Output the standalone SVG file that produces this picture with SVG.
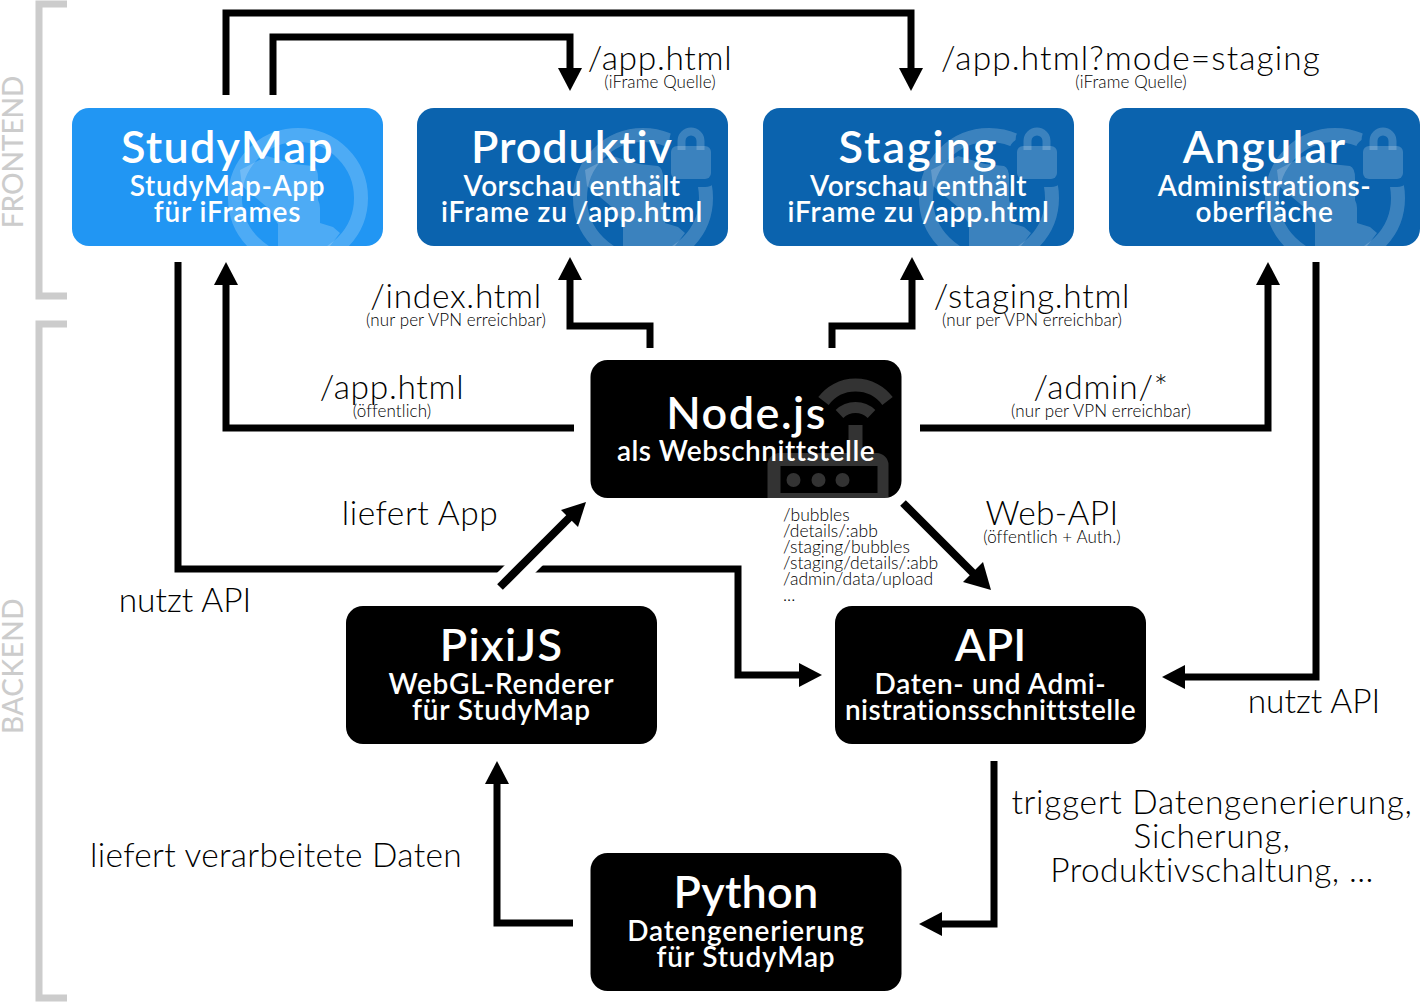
<svg xmlns="http://www.w3.org/2000/svg" width="1422" height="1004" viewBox="0 0 1422 1004">
<style>
text{font-family:Lato,"Open Sans","Liberation Sans",sans-serif;text-anchor:middle}
.t{font-size:45px;font-weight:600;fill:#fff;letter-spacing:1.200px}
.s{font-size:28px;font-weight:600;fill:#fff;letter-spacing:.85px}
.l{font-size:33.500px;font-weight:300;fill:#000;letter-spacing:.7px}
.m{font-size:17px;font-weight:300;fill:#000;letter-spacing:.1px}
.r{font-size:17.500px;font-weight:300;fill:#000;text-anchor:start}
.c{fill:none;stroke:#000;stroke-width:7;stroke-linejoin:miter}
.d{fill:none;stroke:#000;stroke-width:8}
.h{fill:#000}
.b{fill:none;stroke:#ccc;stroke-width:7}
.g{font-size:28px;font-weight:500;fill:#ccc}
.w{fill:#fff;fill-opacity:.2}
.ws{fill:none;stroke:#fff;stroke-opacity:.2}
</style>
<defs>
<clipPath id="rc"><rect width="311" height="138" rx="17"/></clipPath>
<mask id="nolock" maskUnits="userSpaceOnUse" x="0" y="0" width="311" height="138"><rect width="311" height="138" fill="#fff"/><rect x="254" y="38" width="40" height="33" rx="6" fill="#000" stroke="#000" stroke-width="16"/><path d="M264.500 42V33a9.500 9.500 0 0 1 19 0V42" fill="none" stroke="#000" stroke-width="24"/></mask>
<g id="globe"><circle cx="226" cy="90" r="63" class="ws" stroke-width="14"/><path class="w" d="M168 62L195 48L222 56L241 58Q246 60 246 70V92Q248 96 248 100V115L261 119L268 125L258 138H206V116L196 100L170 78Z"/></g>
<g id="lock"><path d="M264.500 42V33a9.500 9.500 0 0 1 19 0V42" class="ws" stroke-width="8"/><rect x="254" y="38" width="40" height="33" rx="6" class="w"/></g>
</defs>
<g id="brackets">
<path class="b" d="M67 4H39V296H67"/>
<path class="b" d="M67 324H39V998H67"/>
<text class="g" transform="translate(23 152) rotate(-90)">FRONTEND</text>
<text class="g" transform="translate(23 666) rotate(-90)" style="letter-spacing:.5px">BACKEND</text>
</g>
<g id="connectors">
<path class="c" d="M226 95V13H911V70"/><path class="h" d="M899 68h24l-12 23z"/>
<path class="c" d="M273 95V37H570V70"/><path class="h" d="M558 68h24l-12 23z"/>
<path class="c" d="M178 262V569H738V675H802"/><path class="h" d="M799 663l23 12-23 12z"/>
<path d="M505 584L534 555" fill="none" stroke="#fff" stroke-width="27"/>
<path class="d" d="M500 587L570 517"/><path class="h" d="M561 510l25-8-8 25z"/>
<path class="c" d="M574 428H226V282"/><path class="h" d="M214 285h24l-12-23z"/>
<path class="c" d="M650 348V326H570V277"/><path class="h" d="M558 280h24l-12-23z"/>
<path class="c" d="M832 348V326H912V277"/><path class="h" d="M900 280h24l-12-23z"/>
<path class="c" d="M920 428H1268V282"/><path class="h" d="M1256 285h24l-12-23z"/>
<path class="c" d="M1316 262V677H1182"/><path class="h" d="M1185 665l-23 12 23 12z"/>
<path class="d" d="M903 503L975 575"/><path class="h" d="M963 582l28 8-8-28z"/>
<path class="c" d="M994 761V924H939"/><path class="h" d="M942 912l-23 12 23 12z"/>
<path class="c" d="M573 923H497V781"/><path class="h" d="M485 784h24l-12-23z"/>
</g>
<g id="labels">
<text class="l" x="660" y="70">/app.html</text>
<text class="m" x="660" y="88">(iFrame Quelle)</text>
<text class="l" x="1131" y="70" style="letter-spacing:1.100px">/app.html?mode=staging</text>
<text class="m" x="1131" y="88">(iFrame Quelle)</text>
<text class="l" x="456" y="308">/index.html</text>
<text class="m" x="456" y="326">(nur per VPN erreichbar)</text>
<text class="l" x="1032" y="308">/staging.html</text>
<text class="m" x="1032" y="326">(nur per VPN erreichbar)</text>
<text class="l" x="392" y="399">/app.html</text>
<text class="m" x="392" y="417">(öffentlich)</text>
<text class="l" x="1101" y="399">/admin/*</text>
<text class="m" x="1101" y="417">(nur per VPN erreichbar)</text>
<text class="l" x="420" y="525" style="letter-spacing:.55px">liefert App</text>
<text class="l" x="1052" y="525" style="letter-spacing:.3px">Web-API</text>
<text class="m" x="1052" y="543">(öffentlich + Auth.)</text>
<text class="l" x="185" y="612" style="letter-spacing:0">nutzt API</text>
<text class="l" x="1314" y="713" style="letter-spacing:0">nutzt API</text>
<text class="l" x="276" y="867" style="letter-spacing:.3px">liefert verarbeitete Daten</text>
<text class="l" x="1212" y="814">triggert Datengenerierung,</text>
<text class="l" x="1212" y="848">Sicherung,</text>
<text class="l" x="1212" y="882" style="letter-spacing:.4px">Produktivschaltung, ...</text>
<text class="r" x="783" y="521">/bubbles</text>
<text class="r" x="783" y="537">/details/:abb</text>
<text class="r" x="783" y="553">/staging/bubbles</text>
<text class="r" x="783" y="569">/staging/details/:abb</text>
<text class="r" x="783" y="585">/admin/data/upload</text>
<text class="r" x="783" y="601">...</text>
</g>
<g id="node-studymap" transform="translate(72 108)"><rect width="311" height="138" rx="17" fill="#2196f3"/><g clip-path="url(#rc)"><use href="#globe"/></g><text class="t" x="155.500" y="55">StudyMap</text><text class="s" x="155.500" y="87.500" style="letter-spacing:.65px">StudyMap-App</text><text class="s" x="155.500" y="113.500">für iFrames</text></g>
<g id="node-produktiv" transform="translate(417 108)"><rect width="311" height="138" rx="17" fill="#0b63ae"/><g clip-path="url(#rc)"><g mask="url(#nolock)"><use href="#globe"/></g><use href="#lock"/></g><text class="t" x="155" y="55" style="letter-spacing:.9px">Produktiv</text><text class="s" x="155" y="87.500" style="letter-spacing:.5px">Vorschau enthält</text><text class="s" x="155" y="113.500">iFrame zu /app.html</text></g>
<g id="node-staging" transform="translate(763 108)"><rect width="311" height="138" rx="17" fill="#0b63ae"/><g clip-path="url(#rc)"><g mask="url(#nolock)"><use href="#globe"/></g><use href="#lock"/></g><text class="t" x="155.500" y="55" style="letter-spacing:2px">Staging</text><text class="s" x="155.500" y="87.500" style="letter-spacing:.5px">Vorschau enthält</text><text class="s" x="155.500" y="113.500">iFrame zu /app.html</text></g>
<g id="node-angular" transform="translate(1109 108)"><rect width="311" height="138" rx="17" fill="#0b63ae"/><g clip-path="url(#rc)"><g mask="url(#nolock)"><use href="#globe"/></g><use href="#lock"/></g><text class="t" x="155.500" y="55">Angular</text><text class="s" x="155.500" y="87.500" style="letter-spacing:.5px">Administrations-</text><text class="s" x="155.500" y="113.500" style="letter-spacing:.6px">oberfläche</text></g>
<g id="node-nodejs" transform="translate(590.500 360)"><rect width="311" height="138" rx="17" fill="#000"/><g clip-path="url(#rc)" fill="#fff" fill-opacity=".2"><path d="M233 41a40 40 0 0 1 64 0" class="ws" stroke-width="13"/><path d="M249 54a23 23 0 0 1 32 0" class="ws" stroke-width="11"/><rect x="258" y="65" width="14" height="28"/><path fill-rule="evenodd" d="M177 138V105a12 12 0 0 1 12-12H286a12 12 0 0 1 12 12V138zM190 106V133H287V106z"/><circle cx="203" cy="120" r="7"/><circle cx="228" cy="120" r="7"/><circle cx="252" cy="120" r="7"/></g><text class="t" x="156" y="69" style="letter-spacing:1.500px">Node.js</text><text class="s" x="155.500" y="100.500" style="letter-spacing:.5px">als Webschnittstelle</text></g>
<g id="node-pixijs" transform="translate(346 606)"><rect width="311" height="138" rx="17" fill="#000"/><text class="t" x="155.500" y="55">PixiJS</text><text class="s" x="155.500" y="87.500" style="letter-spacing:.8px">WebGL-Renderer</text><text class="s" x="155.500" y="113.500">für StudyMap</text></g>
<g id="node-api" transform="translate(835 606)"><rect width="311" height="138" rx="17" fill="#000"/><text class="t" x="155.500" y="55" style="letter-spacing:0">API</text><text class="s" x="155.500" y="87.500" style="letter-spacing:.65px">Daten- und Admi-</text><text class="s" x="155.500" y="113.500" style="letter-spacing:.45px">nistrationsschnittstelle</text></g>
<g id="node-python" transform="translate(590.500 853)"><rect width="311" height="138" rx="17" fill="#000"/><text class="t" x="155.500" y="55" style="letter-spacing:.2px">Python</text><text class="s" x="155.500" y="87.500">Datengenerierung</text><text class="s" x="155.500" y="113.500">für StudyMap</text></g>
</svg>
